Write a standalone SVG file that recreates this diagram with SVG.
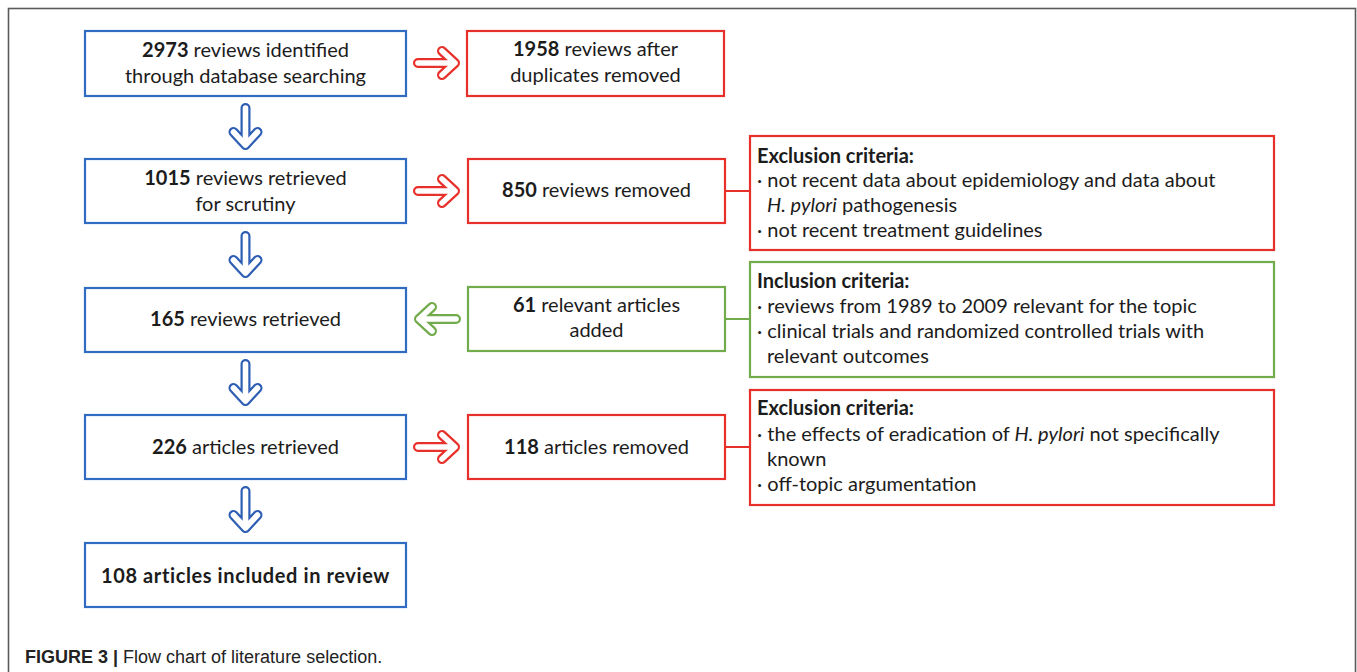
<svg xmlns="http://www.w3.org/2000/svg" xmlns:xlink="http://www.w3.org/1999/xlink" width="1357" height="672" viewBox="0 0 1357 672">
<style>
.frame{fill:none;stroke:#5a5a5a;stroke-width:1.6}
.box{fill:#fff;stroke-width:2.2}
.blue{stroke:#2f6cc2}
.red{stroke:#e8302a}
.green{stroke:#71ab4b}
.t{font-family:Lato,"Open Sans",sans-serif;font-size:20px;fill:#1c1c1c}
.c{text-anchor:middle}
.b{font-weight:bold}
.i{font-style:italic}
.line{fill:none;stroke-width:2}
.ao{fill:none;stroke-width:10;stroke-linecap:round;stroke-linejoin:round}
.ai{fill:none;stroke:#fff;stroke-width:5.6;stroke-linecap:round;stroke-linejoin:round}
.ablue{stroke:#2f5fb5}
.ared{stroke:#e8302a}
.agreen{stroke:#71ab4b}
.cap{font-family:"Liberation Sans",Arial,sans-serif;font-size:18px;fill:#222}
</style>
<defs>
<path id="arR" d="M-19,0 H18 M5,-12 L18,0 L5,12"/>
<path id="arL" d="M19,0 H-18 M-5,-12 L-18,0 L-5,12"/>
<path id="arD" d="M0,-19 V18 M-12,5 L0,18 L12,5"/>
</defs>
<rect class="frame" x="8.5" y="8.5" width="1347" height="700"/>

<g id="connectors">
<line class="line red" x1="725" y1="191" x2="750" y2="191"/>
<line class="line green" x1="725" y1="319" x2="750" y2="319"/>
<line class="line red" x1="725" y1="447" x2="750" y2="447"/>
<use xlink:href="#arD" x="245.5" y="127" class="ao ablue"/><use xlink:href="#arD" x="245.5" y="127" class="ai"/>
<use xlink:href="#arD" x="245.5" y="255" class="ao ablue"/><use xlink:href="#arD" x="245.5" y="255" class="ai"/>
<use xlink:href="#arD" x="245.5" y="383" class="ao ablue"/><use xlink:href="#arD" x="245.5" y="383" class="ai"/>
<use xlink:href="#arD" x="245.5" y="510" class="ao ablue"/><use xlink:href="#arD" x="245.5" y="510" class="ai"/>
<use xlink:href="#arR" x="437" y="63" class="ao ared"/><use xlink:href="#arR" x="437" y="63" class="ai"/>
<use xlink:href="#arR" x="437" y="191" class="ao ared"/><use xlink:href="#arR" x="437" y="191" class="ai"/>
<use xlink:href="#arL" x="437" y="319" class="ao agreen"/><use xlink:href="#arL" x="437" y="319" class="ai"/>
<use xlink:href="#arR" x="437" y="447" class="ao ared"/><use xlink:href="#arR" x="437" y="447" class="ai"/>
</g>

<g id="n1"><rect class="box blue" x="85" y="31" width="321" height="65"/>
<text class="t c" x="245.5" y="57"><tspan class="b">2973</tspan> reviews identified</text>
<text class="t c" x="245.5" y="83">through database searching</text></g>

<g id="n2"><rect class="box red" x="467" y="31" width="257" height="65"/>
<text class="t c" x="595.5" y="56"><tspan class="b">1958</tspan> reviews after</text>
<text class="t c" x="595.5" y="82">duplicates removed</text></g>

<g id="n3"><rect class="box blue" x="85" y="159" width="321" height="64"/>
<text class="t c" x="245.5" y="185"><tspan class="b">1015</tspan> reviews retrieved</text>
<text class="t c" x="245.5" y="211">for scrutiny</text></g>

<g id="n4"><rect class="box red" x="468" y="159" width="257" height="64"/>
<text class="t c" x="596.5" y="197"><tspan class="b">850</tspan> reviews removed</text></g>

<g id="n5"><rect class="box red" x="750" y="136" width="524" height="114"/>
<text class="t" x="757" y="163"><tspan class="b">Exclusion criteria:</tspan></text>
<text class="t" x="757" y="187">· not recent data about epidemiology and data about</text>
<text class="t" x="767" y="212"><tspan class="i">H. pylori</tspan> pathogenesis</text>
<text class="t" x="757" y="237">· not recent treatment guidelines</text></g>

<g id="n6"><rect class="box blue" x="85" y="288" width="321" height="64"/>
<text class="t c" x="245.5" y="326"><tspan class="b">165</tspan> reviews retrieved</text></g>

<g id="n7"><rect class="box green" x="468" y="287" width="257" height="64"/>
<text class="t c" x="596.5" y="312"><tspan class="b">61</tspan> relevant articles</text>
<text class="t c" x="596.5" y="337">added</text></g>

<g id="n8"><rect class="box green" x="750" y="262" width="524" height="115"/>
<text class="t" x="757" y="288"><tspan class="b">Inclusion criteria:</tspan></text>
<text class="t" x="757" y="313">· reviews from 1989 to 2009 relevant for the topic</text>
<text class="t" x="757" y="338">· clinical trials and randomized controlled trials with</text>
<text class="t" x="767" y="363">relevant outcomes</text></g>

<g id="n9"><rect class="box blue" x="85" y="415" width="321" height="64"/>
<text class="t c" x="245.5" y="454"><tspan class="b">226</tspan> articles retrieved</text></g>

<g id="n10"><rect class="box red" x="468" y="415" width="257" height="64"/>
<text class="t c" x="596.5" y="454"><tspan class="b">118</tspan> articles removed</text></g>

<g id="n11"><rect class="box red" x="750" y="390" width="524" height="115"/>
<text class="t" x="757" y="415"><tspan class="b">Exclusion criteria:</tspan></text>
<text class="t" x="757" y="441">· the effects of eradication of <tspan class="i">H. pylori</tspan> not specifically</text>
<text class="t" x="767" y="466">known</text>
<text class="t" x="757" y="491">· off-topic argumentation</text></g>

<g id="n12"><rect class="box blue" x="85" y="543" width="321" height="64"/>
<text class="t c b" x="245.5" y="583" letter-spacing="0.6">108 articles included in review</text></g>

<text class="cap" x="25" y="663"><tspan font-weight="bold">FIGURE 3 |</tspan> Flow chart of literature selection.</text>
</svg>
